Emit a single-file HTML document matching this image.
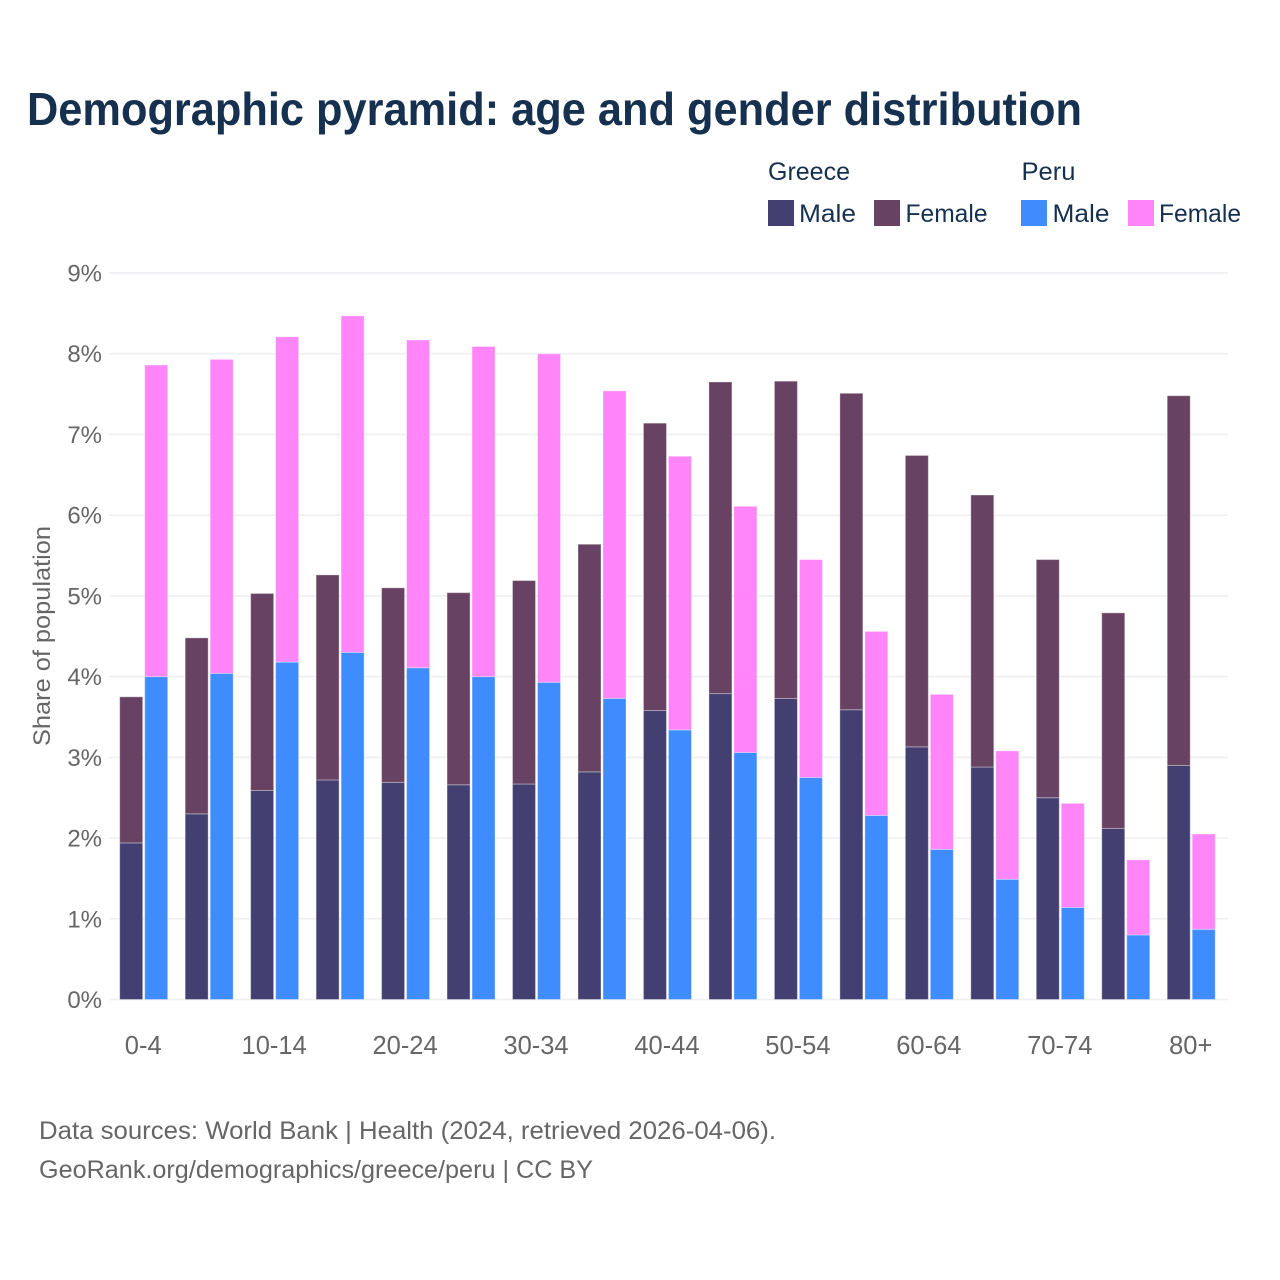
<!DOCTYPE html>
<html lang="en">
<head>
<meta charset="utf-8">
<title>Demographic pyramid: age and gender distribution</title>
<style>
html,body{margin:0;padding:0;background:#fff;}
svg{display:block;font-family:"Liberation Sans",sans-serif;}
</style>
</head>
<body>
<svg id="chart" xmlns="http://www.w3.org/2000/svg" width="1280" height="1280" viewBox="0 0 1280 1280">
  <rect width="1280" height="1280" fill="#ffffff"/>
  <text x="27" y="125" font-size="46" font-weight="700" fill="#16304f" textLength="1055" lengthAdjust="spacingAndGlyphs">Demographic pyramid: age and gender distribution</text>

  <g font-size="25" fill="#16304f">
    <text x="768" y="180" textLength="82" lengthAdjust="spacingAndGlyphs">Greece</text>
    <text x="1021.5" y="180" textLength="54" lengthAdjust="spacingAndGlyphs">Peru</text>
    <rect x="768" y="200" width="26" height="26" fill="#433f70"/>
    <text x="799" y="222" textLength="57" lengthAdjust="spacingAndGlyphs">Male</text>
    <rect x="874" y="200" width="26" height="26" fill="#674262"/>
    <text x="905.5" y="222" textLength="82" lengthAdjust="spacingAndGlyphs">Female</text>
    <rect x="1021" y="200" width="26" height="26" fill="#3f8cff"/>
    <text x="1052.5" y="222" textLength="57" lengthAdjust="spacingAndGlyphs">Male</text>
    <rect x="1128" y="200" width="26" height="26" fill="#ff85f9"/>
    <text x="1159" y="222" textLength="82" lengthAdjust="spacingAndGlyphs">Female</text>
  </g>

  <g id="grid"></g>
  <g id="yticks"></g>
  <text transform="translate(50,636) rotate(-90)" text-anchor="middle" font-size="24" fill="#666666" textLength="220" lengthAdjust="spacingAndGlyphs">Share of population</text>
  <g id="bars"></g>
  <g id="xticks"></g>

  <g font-size="25" fill="#666666">
    <text x="39" y="1139" textLength="737" lengthAdjust="spacingAndGlyphs">Data sources: World Bank | Health (2024, retrieved 2026-04-06).</text>
    <text x="39" y="1178" textLength="554" lengthAdjust="spacingAndGlyphs">GeoRank.org/demographics/greece/peru | CC BY</text>
  </g>
</svg>
<script>
const ageGroups = ["0-4","5-9","10-14","15-19","20-24","25-29","30-34","35-39","40-44","45-49","50-54","55-59","60-64","65-69","70-74","75-79","80+"];
const yTicks = [0,1,2,3,4,5,6,7,8,9];
const greeceMale = [1.94,2.30,2.59,2.72,2.69,2.66,2.67,2.82,3.58,3.79,3.73,3.59,3.13,2.88,2.50,2.12,2.90];
const greeceFemale = [1.81,2.18,2.44,2.54,2.41,2.38,2.52,2.82,3.56,3.86,3.93,3.92,3.61,3.37,2.95,2.67,4.58];
const peruMale = [4.00,4.04,4.18,4.30,4.11,4.00,3.93,3.73,3.34,3.06,2.75,2.28,1.86,1.49,1.14,0.80,0.87];
const peruFemale = [3.86,3.89,4.03,4.17,4.06,4.09,4.07,3.81,3.39,3.05,2.70,2.28,1.92,1.59,1.29,0.93,1.18];

const NS = "http://www.w3.org/2000/svg";
const yScale = v => 999.5 - v * 80.72;
const xScale = i => 143.7 + i * 65.47;
const BAR_W = 23;
const BAR_OFFSET = 12.5;

function slug(s) { return s.replace(/[^0-9a-z]+/gi, "-").replace(/-$/, "").toLowerCase(); }

const grid = document.getElementById("grid");
const yTickGroup = document.getElementById("yticks");
yTicks.forEach(t => {
  const line = document.createElementNS(NS, "line");
  
  
  line.setAttribute("x1", 109);
  line.setAttribute("x2", 1228);
  line.setAttribute("y1", yScale(t));
  line.setAttribute("y2", yScale(t));
  line.setAttribute("stroke", "#f0f0f4");
  line.setAttribute("stroke-width", 1.7);
  grid.appendChild(line);
  const label = document.createElementNS(NS, "text");
  
  
  label.setAttribute("x", 102);
  label.setAttribute("y", yScale(t) + 8.5);
  label.setAttribute("text-anchor", "end");
  label.setAttribute("font-size", 24);
  label.setAttribute("fill", "#666666");
  label.textContent = t + "%";
  yTickGroup.appendChild(label);
});

const barGroup = document.getElementById("bars");
function addBar(name, cx, base, value, fill) {
  const r = document.createElementNS(NS, "rect");
  
  
  r.setAttribute("x", cx - BAR_W / 2);
  r.setAttribute("width", BAR_W);
  r.setAttribute("y", yScale(base + value));
  r.setAttribute("height", yScale(base) - yScale(base + value));
  r.setAttribute("fill", fill);
  r.setAttribute("stroke", "#ffffff");
  r.setAttribute("stroke-opacity", "0.35");
  r.setAttribute("stroke-width", 1);
  barGroup.appendChild(r);
}
ageGroups.forEach((age, i) => {
  const c = xScale(i);
  const key = slug(age);
  addBar('bar-greece-male-' + key, c - BAR_OFFSET, 0, greeceMale[i], "#433f70");
  addBar('bar-greece-female-' + key, c - BAR_OFFSET, greeceMale[i], greeceFemale[i], "#674262");
  addBar('bar-peru-male-' + key, c + BAR_OFFSET, 0, peruMale[i], "#3f8cff");
  addBar('bar-peru-female-' + key, c + BAR_OFFSET, peruMale[i], peruFemale[i], "#ff85f9");
});

const xTickGroup = document.getElementById("xticks");
ageGroups.forEach((age, i) => {
  if (i % 2 !== 0) return;
  const label = document.createElementNS(NS, "text");
  
  
  label.setAttribute("x", xScale(i) - 0.5);
  label.setAttribute("y", 1054);
  label.setAttribute("text-anchor", "middle");
  label.setAttribute("font-size", 25.5);
  label.setAttribute("fill", "#666666");
  label.textContent = age;
  xTickGroup.appendChild(label);
});
</script>
</body>
</html>
